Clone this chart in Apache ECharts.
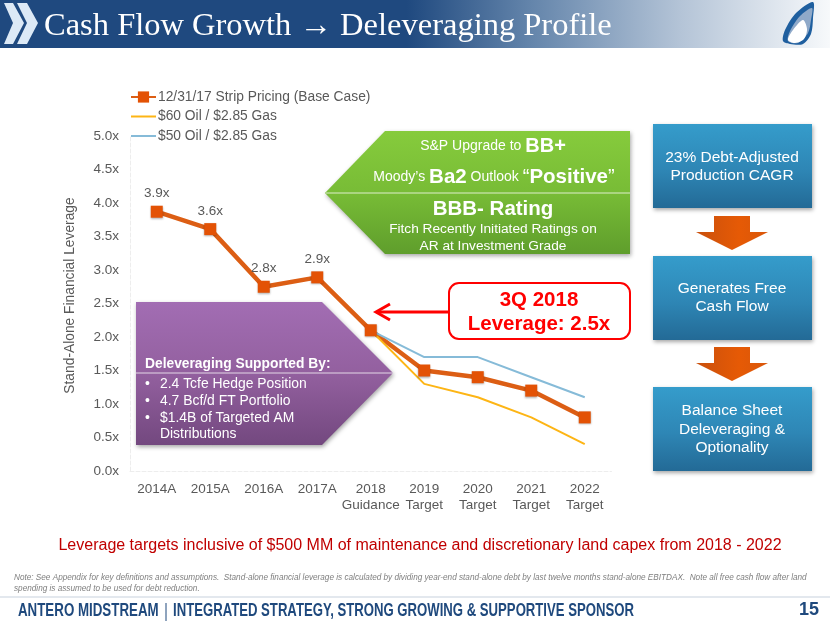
<!DOCTYPE html>
<html>
<head>
<meta charset="utf-8">
<style>
  html, body { margin: 0; padding: 0; background: #fff; }
  #chart { width: 830px; height: 623px; }
</style>
<script src="https://cdn.jsdelivr.net/npm/echarts@6/dist/echarts.min.js"></script>
</head>
<body>
<div id="chart"></div>
<script>
// chart data
const categories = ["2014A", "2015A", "2016A", "2017A", "2018\nGuidance", "2019\nTarget", "2020\nTarget", "2021\nTarget", "2022\nTarget"];
const baseCase = [3.87, 3.61, 2.75, 2.89, 2.1, 1.5, 1.4, 1.2, 0.8];
const oil60 = [null, null, null, null, 2.1, 1.3, 1.1, 0.8, 0.4];
const oil50 = [null, null, null, null, 2.1, 1.7, 1.7, 1.4, 1.1];
const baseLabels = ["3.9x", "3.6x", "2.8x", "2.9x"];
const seriesNames = ["12/31/17 Strip Pricing (Base Case)", "$60 Oil / $2.85 Gas", "$50 Oil / $2.85 Gas"];

const SANS = '"Liberation Sans", Arial, sans-serif';
const GREY = "#595959";

function grad(x, y, x2, y2, stops) {
  return new echarts.graphic.LinearGradient(x, y, x2, y2, stops.map((c) => ({ offset: c[0], color: c[1] })));
}
function poly(points, fill, extra, smooth) {
  return { type: "polygon", z: 10, shape: { points: points, smooth: smooth || 0 }, style: Object.assign({ fill: fill }, extra || {}) };
}
function label(text, x, y, font, fill, align, rich) {
  return {
    type: "text", z: 12,
    style: { text: text, x: x, y: y, font: font, fill: fill, align: align || "center", verticalAlign: "middle", rich: rich }
  };
}
// 页脚字体没有窄体，这里横向压缩
function narrowLabel(text, x, y, scale) {
  return {
    type: "text", z: 12, x: x, y: y, scaleX: scale,
    style: { text: text, x: 0, y: 0, font: "bold 18px " + SANS, fill: "#1F497D", align: "left", verticalAlign: "middle" }
  };
}
function divider(x1, x2, y) {
  return { type: "line", z: 11, shape: { x1: x1, y1: y, x2: x2, y2: y }, style: { stroke: "rgba(255,255,255,0.75)", lineWidth: 1 } };
}

const softShadow = { shadowBlur: 4, shadowOffsetX: 1, shadowOffsetY: 2, shadowColor: "rgba(0,0,0,0.35)" };
const blueFill = () => grad(0, 0, 0, 1, [[0, "#359CCB"], [0.55, "#2E86B5"], [1, "#236A96"]]);
const arrowFill = () => grad(0, 0, 1, 0, [[0, "#C9500D"], [0.6, "#E65A05"], [1, "#D9570A"]]);

// banner and footer
const decorations = [
  { type: "rect", z: 10, shape: { x: 0, y: 0, width: 830, height: 48 },
    style: { fill: grad(0, 0, 1, 0, [[0, "#1F497F"], [0.49, "#1F497F"], [0.64, "#6485AB"], [0.82, "#B4C4D7"], [1, "#F7F9FB"]]) } },
  poly([[4, 3], [13, 3], [24, 23], [13, 44], [4, 44], [13, 23]], "#DCE9F6"),
  poly([[17, 3], [27, 3], [38, 23], [27, 44], [17, 44], [27, 23]], "#DCE9F6"),
  label("Cash Flow Growth → Deleveraging Profile", 44, 26, '32.5px "Liberation Serif", serif', "#fff", "left"),
  // flame logo
  poly([[813, 2], [796, 13], [785, 30], [783, 41], [790, 44], [803, 44], [811, 34], [813, 18]], "#1F5F9F", null, 0.3),
  poly([[812, 8], [800, 16], [790, 31], [788, 41], [798, 43], [808, 33], [811, 20]], "#8FA9C9", null, 0.3),
  poly([[803, 20], [793, 30], [788, 40], [795, 43], [804, 39], [807, 29]], "#FFFFFF", null, 0.3),

  // green ratings callout
  poly([[325, 193], [385, 131], [630, 131], [630, 254], [385, 254]],
    grad(0, 0, 0, 1, [[0, "#86CB3C"], [0.5, "#78BC36"], [1, "#5F9E2C"]]), softShadow),
  divider(326, 630, 193),
  label("{s|S&P Upgrade to }{b|BB+}", 493, 146, "12px " + SANS, "#fff", "center", {
    s: { font: "14px " + SANS, fill: "#fff" }, b: { font: "bold 20px " + SANS, fill: "#fff" }
  }),
  label("{s|Moody’s }{b|Ba2}{s| Outlook }{q|“}{b|Positive}{q|”}", 494, 177, "12px " + SANS, "#fff", "center", {
    s: { font: "14px " + SANS, fill: "#fff" }, b: { font: "bold 20.5px " + SANS, fill: "#fff" }, q: { font: "20px " + SANS, fill: "#fff" }
  }),
  label("BBB- Rating", 493, 209, "bold 20.5px " + SANS, "#fff"),
  label("Fitch Recently Initiated Ratings on", 493, 229, "13.7px " + SANS, "#fff"),
  label("AR at Investment Grade", 493, 246, "13.7px " + SANS, "#fff"),

  // purple box
  poly([[136, 302], [322, 302], [393, 373], [322, 445], [136, 445]],
    grad(0, 0, 0, 1, [[0, "#A26DB3"], [0.5, "#93609F"], [1, "#73487F"]]), softShadow),
  divider(136, 393, 373),
  label("Deleveraging Supported By:", 145, 364, "bold 13.8px " + SANS, "#fff", "left"),
  label("•", 145, 384, "13.9px " + SANS, "#fff", "left"),
  label("2.4 Tcfe Hedge Position", 160, 384, "13.9px " + SANS, "#fff", "left"),
  label("•", 145, 401, "13.9px " + SANS, "#fff", "left"),
  label("4.7 Bcf/d FT Portfolio", 160, 401, "13.9px " + SANS, "#fff", "left"),
  label("•", 145, 418, "13.9px " + SANS, "#fff", "left"),
  label("$1.4B of Targeted AM", 160, 418, "13.9px " + SANS, "#fff", "left"),
  label("Distributions", 160, 434, "13.9px " + SANS, "#fff", "left"),

  // red callout
  { type: "rect", z: 10, shape: { x: 449, y: 283, width: 181, height: 56, r: 10 },
    style: { fill: "#fff", stroke: "#FF0000", lineWidth: 2 } },
  label("3Q 2018", 539, 300, "bold 20.5px " + SANS, "#FF0000"),
  label("Leverage: 2.5x", 539, 324, "bold 20.5px " + SANS, "#FF0000"),
  { type: "line", z: 10, shape: { x1: 449, y1: 312, x2: 378, y2: 312 }, style: { stroke: "#FF0000", lineWidth: 3 } },
  { type: "polyline", z: 10, shape: { points: [[390, 304], [376, 312], [390, 320]] }, style: { stroke: "#FF0000", lineWidth: 3, fill: "none" } },

  // flow on the right
  { type: "rect", z: 10, shape: { x: 653, y: 124, width: 159, height: 84 }, style: Object.assign({ fill: blueFill() }, softShadow) },
  { type: "rect", z: 10, shape: { x: 653, y: 256, width: 159, height: 84 }, style: Object.assign({ fill: blueFill() }, softShadow) },
  { type: "rect", z: 10, shape: { x: 653, y: 387, width: 159, height: 84 }, style: Object.assign({ fill: blueFill() }, softShadow) },
  poly([[714, 216], [750, 216], [750, 232], [768, 232], [732, 250], [696, 232], [714, 232]], arrowFill()),
  poly([[714, 347], [750, 347], [750, 363], [768, 363], [732, 381], [696, 363], [714, 363]], arrowFill()),
  label("23% Debt-Adjusted", 732, 158, "15.5px " + SANS, "#fff"),
  label("Production CAGR", 732, 176, "15.5px " + SANS, "#fff"),
  label("Generates Free", 732, 289, "15.5px " + SANS, "#fff"),
  label("Cash Flow", 732, 307, "15.5px " + SANS, "#fff"),
  label("Balance Sheet", 732, 411, "15.5px " + SANS, "#fff"),
  label("Deleveraging &", 732, 430, "15.5px " + SANS, "#fff"),
  label("Optionality", 732, 448, "15.5px " + SANS, "#fff"),

  // notes and footer
  label("Leverage targets inclusive of $500 MM of maintenance and discretionary land capex from 2018 - 2022", 420, 546, "16px " + SANS, "#C00000"),
  label("Note: See Appendix for key definitions and assumptions.  Stand-alone financial leverage is calculated by dividing year-end stand-alone debt by last twelve months stand-alone EBITDAX.  Note all free cash flow after land", 14, 578, "italic 8.2px " + SANS, "#7F7F7F", "left"),
  label("spending is assumed to be used for debt reduction.", 14, 589, "italic 8.2px " + SANS, "#7F7F7F", "left"),
  { type: "line", z: 10, shape: { x1: 0, y1: 597, x2: 830, y2: 597 }, style: { stroke: "#E3E8EE", lineWidth: 2 } },
  narrowLabel("ANTERO MIDSTREAM", 18, 611, 0.74),
  { type: "line", z: 10, shape: { x1: 166, y1: 603, x2: 166, y2: 621 }, style: { stroke: "#1F497D", lineWidth: 1 } },
  narrowLabel("INTEGRATED STRATEGY, STRONG GROWING & SUPPORTIVE SPONSOR", 173, 611, 0.73),
  label("15", 809, 610, "bold 18px " + SANS, "#1F497D")
];

const chart = echarts.init(document.getElementById("chart"), null, { renderer: "canvas" });

chart.setOption({
  animation: false,
  backgroundColor: "#fff",
  textStyle: { fontFamily: SANS },
  grid: { left: 130, top: 136, width: 481.5, height: 335, containLabel: false },
  legend: {
    left: 125, top: 85, orient: "vertical", itemGap: 5.5, itemWidth: 25, itemHeight: 14,
    textStyle: { color: GREY, fontSize: 13.8, padding: [0, 0, 0, -3] },
    data: [
      { name: seriesNames[0] },
      { name: seriesNames[1], itemStyle: { opacity: 0 } },
      { name: seriesNames[2], itemStyle: { opacity: 0 } }
    ]
  },
  xAxis: {
    type: "category", data: categories, boundaryGap: true,
    axisLine: { lineStyle: { color: "#EDEDED", type: "dashed" } },
    axisTick: { show: false },
    axisLabel: { color: GREY, fontSize: 13.5, margin: 10, interval: 0, lineHeight: 16 }
  },
  yAxis: {
    type: "value", min: 0, max: 5, interval: 0.5,
    name: "Stand-Alone Financial Leverage", nameLocation: "middle", nameGap: 53, nameRotate: 90,
    nameTextStyle: { color: GREY, fontSize: 13.8, padding: [0, 0, 0, 16] },
    axisLine: { show: true, lineStyle: { color: "#EDEDED", type: "dashed" } },
    axisTick: { show: false },
    splitLine: { show: false },
    axisLabel: { color: GREY, fontSize: 13.5, margin: 11, formatter: (v) => v.toFixed(1) + "x" }
  },
  series: [
    {
      name: seriesNames[0], type: "line", data: baseCase,
      symbol: "rect", symbolSize: 12, showAllSymbol: true,
      lineStyle: { color: "#DC5E14", width: 4.5 },
      itemStyle: { color: "#E35205", shadowBlur: 2, shadowColor: "rgba(0,0,0,0.3)", shadowOffsetY: 1 },
      label: {
        show: true, position: "top", distance: 5, color: GREY, fontSize: 13.5,
        formatter: (p) => baseLabels[p.dataIndex] || ""
      }
    },
    {
      name: seriesNames[1], type: "line", data: oil60, symbol: "none",
      lineStyle: { color: "#FDB515", width: 2 }, itemStyle: { color: "#FDB515" }
    },
    {
      name: seriesNames[2], type: "line", data: oil50, symbol: "none",
      lineStyle: { color: "#86BBD8", width: 2 }, itemStyle: { color: "#86BBD8" }
    }
  ],
  graphic: { elements: decorations }
});
</script>
</body>
</html>
